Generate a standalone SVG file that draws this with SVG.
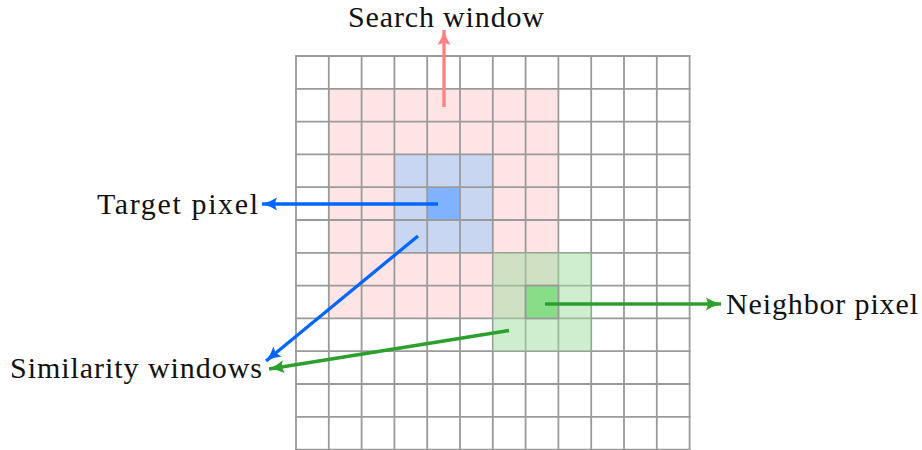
<svg xmlns="http://www.w3.org/2000/svg" width="922" height="450" viewBox="0 0 922 450">
<style>
.lbl{font-family:"Liberation Serif","Times New Roman",serif;font-size:30px;fill:#111}
.grid line{stroke:#9a9a9a;stroke-width:1.8}
.arr{fill:none;stroke-width:3.3}
</style>
<defs>
<marker id="hr" markerUnits="userSpaceOnUse" markerWidth="18" markerHeight="16" viewBox="0 0 18 16" refX="15" refY="8" orient="auto"><path d="M0,1.5 Q7,6 15,8 Q7,10 0,14.5 Q3.5,8 0,1.5Z" fill="#ff8080"/></marker>
<marker id="hb" markerUnits="userSpaceOnUse" markerWidth="18" markerHeight="16" viewBox="0 0 18 16" refX="15" refY="8" orient="auto"><path d="M0,1.5 Q7,6 15,8 Q7,10 0,14.5 Q3.5,8 0,1.5Z" fill="#0066ff"/></marker>
<marker id="hg" markerUnits="userSpaceOnUse" markerWidth="18" markerHeight="16" viewBox="0 0 18 16" refX="15" refY="8" orient="auto"><path d="M0,1.5 Q7,6 15,8 Q7,10 0,14.5 Q3.5,8 0,1.5Z" fill="#2ca02c"/></marker>
</defs>
<rect width="922" height="450" fill="#fff"/>
<g id="search-window-area"><rect x="328.8" y="88.8" width="229.6" height="229.6" fill="#ffe4e6"/></g>
<g id="target-window"><rect x="394.4" y="154.4" width="98.4" height="98.4" fill="#c9d6f2"/></g>
<g id="target-pixel-cell"><rect x="427.2" y="187.2" width="32.8" height="32.8" fill="#80b3ff"/></g>
<g id="grid" class="grid">
<line x1="296" y1="56" x2="296" y2="450"/><line x1="328.8" y1="56" x2="328.8" y2="450"/><line x1="361.6" y1="56" x2="361.6" y2="450"/><line x1="394.4" y1="56" x2="394.4" y2="450"/><line x1="427.2" y1="56" x2="427.2" y2="450"/><line x1="460" y1="56" x2="460" y2="450"/><line x1="492.8" y1="56" x2="492.8" y2="450"/><line x1="525.6" y1="56" x2="525.6" y2="450"/><line x1="558.4" y1="56" x2="558.4" y2="450"/><line x1="591.2" y1="56" x2="591.2" y2="450"/><line x1="624" y1="56" x2="624" y2="450"/><line x1="656.8" y1="56" x2="656.8" y2="450"/><line x1="689.6" y1="56" x2="689.6" y2="450"/>
<line x1="295.1" y1="56" x2="690.5" y2="56"/><line x1="295.1" y1="88.8" x2="690.5" y2="88.8"/><line x1="295.1" y1="121.6" x2="690.5" y2="121.6"/><line x1="295.1" y1="154.4" x2="690.5" y2="154.4"/><line x1="295.1" y1="187.2" x2="690.5" y2="187.2"/><line x1="295.1" y1="220" x2="690.5" y2="220"/><line x1="295.1" y1="252.8" x2="690.5" y2="252.8"/><line x1="295.1" y1="285.6" x2="690.5" y2="285.6"/><line x1="295.1" y1="318.4" x2="690.5" y2="318.4"/><line x1="295.1" y1="351.2" x2="690.5" y2="351.2"/><line x1="295.1" y1="384" x2="690.5" y2="384"/><line x1="295.1" y1="416.8" x2="690.5" y2="416.8"/><line x1="295.1" y1="449.6" x2="690.5" y2="449.6"/>
</g>
<g id="neighbor-window"><rect x="492.8" y="252.8" width="98.4" height="98.4" fill="#a0dca0" fill-opacity="0.5"/></g>
<g id="neighbor-pixel-cell"><rect x="525.6" y="285.6" width="32.8" height="32.8" fill="#88dd88" stroke="#9a9a9a" stroke-width="1.8"/></g>
<g id="connectors">
<line class="arr" x1="444" y1="107" x2="444" y2="30" stroke="#ff8080" marker-end="url(#hr)"/>
<line class="arr" x1="438" y1="204" x2="262" y2="204" stroke="#0066ff" marker-end="url(#hb)"/>
<line class="arr" x1="418" y1="236" x2="266" y2="361" stroke="#0066ff" marker-end="url(#hb)"/>
<line class="arr" x1="545" y1="304" x2="721" y2="304" stroke="#2ca02c" marker-end="url(#hg)"/>
<line class="arr" x1="509" y1="330.5" x2="269" y2="369" stroke="#2ca02c" marker-end="url(#hg)"/>
</g>
<g id="search-window"><text class="lbl" x="348" y="27" textLength="196" lengthAdjust="spacing">Search window</text></g>
<g id="target-pixel"><text class="lbl" x="97" y="214" textLength="161" lengthAdjust="spacing">Target pixel</text></g>
<g id="similarity-windows"><text class="lbl" x="10" y="378" textLength="252" lengthAdjust="spacing">Similarity windows</text></g>
<g id="neighbor-pixel"><text class="lbl" x="726" y="314" textLength="192" lengthAdjust="spacing">Neighbor pixel</text></g>
</svg>
